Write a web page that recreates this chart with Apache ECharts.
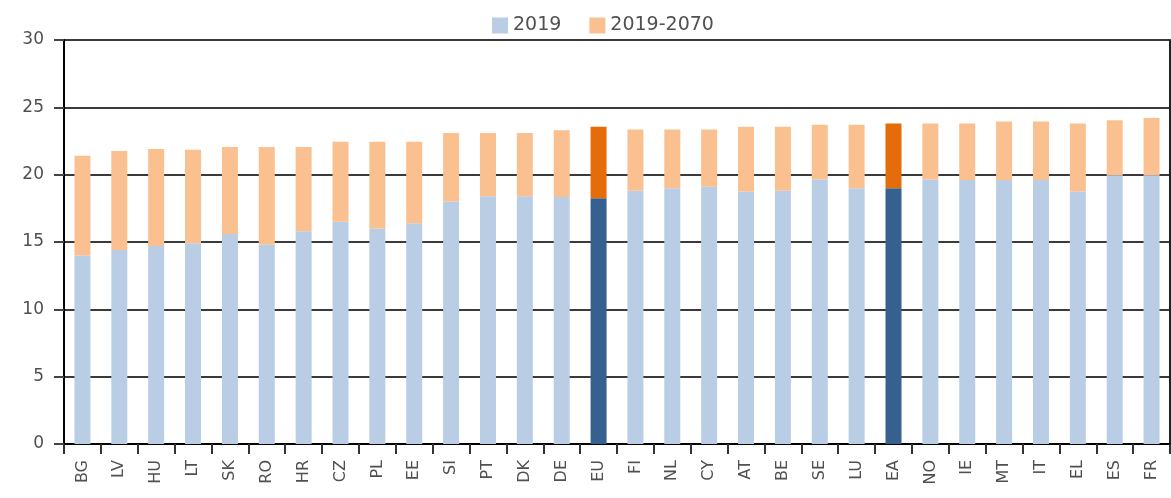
<!DOCTYPE html>
<html>
<head>
    <meta charset="UTF-8">
    <script src="https://cdn.jsdelivr.net/npm/echarts@6/dist/echarts.min.js"></script>
</head>
<style type="text/css">
    html, body { margin: 0; padding: 0; width: 100%; height: 100%; background: #fff; }
    #main { width: 1171px; height: 498px; }
</style>
<body>
    <div id="main"></div>
</body>
<script>
    var countries = ['BG','LV','HU','LT','SK','RO','HR','CZ','PL','EE','SI','PT','DK','DE','EU','FI','NL','CY','AT','BE','SE','LU','EA','NO','IE','MT','IT','EL','ES','FR'];
    var base2019 = [14.0,14.4,14.7,14.9,15.6,14.8,15.8,16.5,16.0,16.4,18.0,18.4,18.4,18.35,18.25,18.8,19.0,19.1,18.75,18.8,19.65,19.0,19.0,19.65,19.6,19.6,19.6,18.75,19.95,19.95];
    var change = [7.4,7.35,7.2,6.95,6.45,7.25,6.25,5.95,6.45,6.05,5.1,4.7,4.7,4.95,5.3,4.55,4.35,4.25,4.8,4.75,4.05,4.7,4.8,4.15,4.2,4.35,4.35,5.05,4.1,4.25];
    var aggregates = ['EU','EA'];
    var yTicks = [0,5,10,15,20,25,30];

    var myChart = echarts.init(document.getElementById('main'));
    var font = 'DejaVu Sans';

    function mark(values, darkColor) {
        return values.map(function (v, i) {
            if (aggregates.indexOf(countries[i]) >= 0) {
                return { value: v, itemStyle: { color: darkColor } };
            }
            return v;
        });
    }

    var option = {
        animation: false,
        legend: {
            top: 11,
            left: 487,
            icon: 'rect',
            itemWidth: 16,
            itemHeight: 16,
            itemGap: 28,
            textStyle: { fontSize: 19, color: '#505050', fontFamily: font },
            data: ['2019', '2019-2070']
        },
        grid: { left: 64, right: 1, top: 40, bottom: 54 },
        xAxis: {
            type: 'category',
            data: countries,
            axisLine: { lineStyle: { color: '#000', width: 2 } },
            axisTick: { show: true, length: 10, lineStyle: { color: '#333', width: 2 } },
            axisLabel: { rotate: 90, margin: 16, fontSize: 16, color: '#505050', fontFamily: font }
        },
        yAxis: [{
            type: 'value',
            min: yTicks[0],
            max: yTicks[yTicks.length - 1],
            interval: 5,
            axisLine: { show: true, lineStyle: { color: '#000', width: 2 } },
            axisTick: { show: true, length: 10, lineStyle: { color: '#444', width: 2 } },
            axisLabel: { margin: 20, fontSize: 17, color: '#505050', fontFamily: font },
            splitLine: { lineStyle: { color: '#3a3a3a', width: 2 } }
        }, {
            type: 'value',
            position: 'right',
            min: yTicks[0],
            max: yTicks[yTicks.length - 1],
            interval: 5,
            axisLine: { show: true, lineStyle: { color: '#222', width: 2 } },
            axisTick: { show: false },
            axisLabel: { show: false },
            splitLine: { show: false }
        }],
        series: [
            {
                name: '2019',
                type: 'bar',
                stack: 'total',
                barWidth: 16,
                itemStyle: { color: '#b9cde5' },
                data: mark(base2019, '#35608f')
            },
            {
                name: '2019-2070',
                type: 'bar',
                stack: 'total',
                barWidth: 16,
                itemStyle: { color: '#fac090' },
                data: mark(change, '#e46c0a')
            }
        ]
    };
    myChart.setOption(option);
</script>
</html>
